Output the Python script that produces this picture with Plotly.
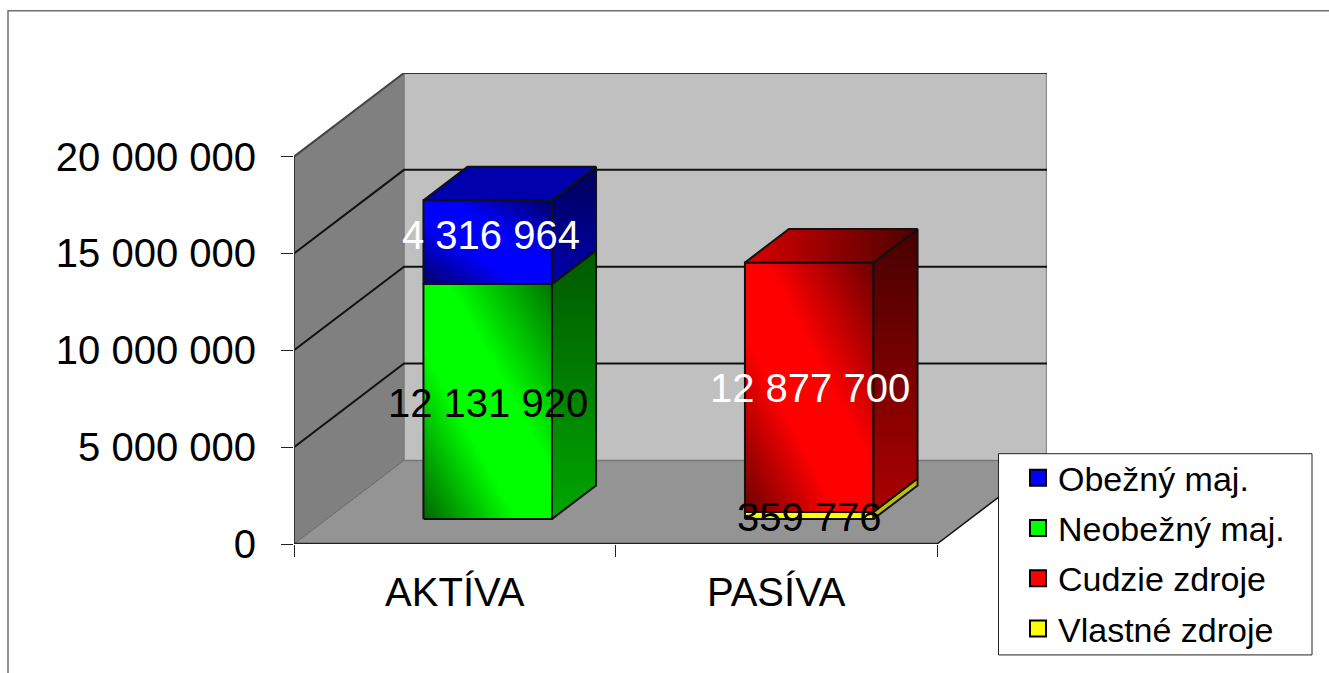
import numpy as np
import plotly.graph_objects as go

categories = ["AKTÍVA", "PASÍVA"]
obezny_maj = [4316964, None]
neobezny_maj = [12131920, None]
cudzie_zdroje = [None, 12877700]
vlastne_zdroje = [None, 359776]
y_ticks = [0, 5000000, 10000000, 15000000, 20000000]

FIG_W, FIG_H = 1329, 673
L, R, T, B = 294.0, 1047.0, 73.2, 543.7
PX_X = 321.5            # pixels per category
PX_Y = 19.35e-6         # pixels per unit value
DX = 110 / PX_X         # full chart depth, axis units
DY = 83.5 / PX_Y
X_MAX = 2 + DX
Y_MAX = 20000000 + DY
BAR_W = 0.4
D0, D1 = 0.3, 0.7       # bars' depth span


def fmt(v):
    return f"{v:,}".replace(",", " ")


def px(x):
    return (x - L) / (R - L)


def py(y):
    return (B - y) / (B - T)


def P(x, v, d=0.0):
    return x + d * DX, v + d * DY


def path(points):
    return "M " + " L ".join(f"{x},{y}" for x, y in points) + " Z"


def open_path(points):
    return "M " + " L ".join(f"{x},{y}" for x, y in points)


def shade(rgb, k):
    return "rgb(%d,%d,%d)" % tuple(round(c * k) for c in rgb)


shapes = []


def poly(points, fill, line="rgba(0,0,0,0)", width=0):
    shapes.append(dict(type="path", path=path(points), xref="x", yref="y", layer="below",
                       fillcolor=fill, line=dict(color=line, width=width)))


def seg(points, color, width):
    shapes.append(dict(type="path", path=open_path(points), xref="x", yref="y", layer="below",
                       line=dict(color=color, width=width)))


# chart box
poly([P(0, 0), P(0, 0, 1), P(2, 0, 1), P(2, 0)], "#949494")
poly([P(0, 0), P(0, 20000000), P(0, 20000000, 1), P(0, 0, 1)], "#808080")
poly([P(0, 0, 1), P(0, 20000000, 1), P(2, 20000000, 1), P(2, 0, 1)], "#C0C0C0")
seg([P(0, 0, 1), P(0, 20000000, 1)], "#7a7a7a", 1.5)
seg([P(2, 0, 1), P(2, 20000000, 1)], "#8c8c8c", 2.5)
seg([P(0, 0, 1), P(2, 0, 1)], "#777777", 1.5)
seg([P(0, 0), P(0, 0, 1)], "#666666", 1)
for v in y_ticks[1:]:
    seg([P(0, v), P(0, v, 1), P(2, v, 1)], "#111111" if v < 20000000 else "#444444", 2)
seg([P(0, 20000000, 1), P(2, 20000000, 1)], "#333333", 2)
seg([P(2, 0), P(2, 0, 1)], "#111111", 1.5)
seg([P(0, 0), P(0, 20000000)], "#333333", 2)
seg([P(0, 0), P(2, 0)], "#222222", 2.5)

# outer chart border and legend box
shapes.append(dict(type="path", xref="paper", yref="paper", layer="below",
                   path=open_path([(px(8), py(673)), (px(8), py(11)), (px(1329), py(11))]),
                   line=dict(color="#707070", width=1.5)))
shapes.append(dict(type="rect", xref="paper", yref="paper", layer="above",
                   x0=px(998.5), x1=px(1312), y0=py(654.5), y1=py(453.5),
                   fillcolor="white", line=dict(color="#222222", width=1)))

traces = []


def box(cat, base, value, rgb, fr=(0.45, 0.3, 0.58, 0.45), side=(0.36, 0.65), top=None):
    xl = cat + 0.5 - BAR_W / 2
    xr = cat + 0.5 + BAR_W / 2
    y0, y1 = base, base + value
    # front face with the diagonal shading
    ex = np.linspace(xl, xr, 61) + D0 * DX
    ey = np.linspace(y0, y1, 61) + D0 * DY
    cx = (np.arange(60) + 0.5) / 60
    z = (cx[None, :] + cx[:, None]) / 2
    traces.append(go.Heatmap(
        x=ex, y=ey, z=z, zmin=0, zmax=1, showscale=False, hoverinfo="skip", zsmooth="best",
        colorscale=[[0, shade(rgb, fr[0])], [fr[1], shade(rgb, 1)],
                    [fr[2], shade(rgb, 1)], [1, shade(rgb, fr[3])]]))
    a, b, c, d = P(xl, y0, D0), P(xr, y0, D0), P(xr, y1, D0), P(xl, y1, D0)
    traces.append(go.Scatter(x=[a[0], b[0], c[0], d[0], a[0]], y=[a[1], b[1], c[1], d[1], a[1]],
                             mode="lines", line=dict(color="#111111", width=2),
                             showlegend=False, hoverinfo="skip"))
    # side face
    s = [P(xr, y0, D0), P(xr, y0, D1), P(xr, y1, D1), P(xr, y1, D0), P(xr, y0, D0)]
    traces.append(go.Scatter(
        x=[p[0] for p in s], y=[p[1] for p in s], mode="lines", fill="toself",
        fillgradient=dict(type="vertical",
                          colorscale=[[0, shade(rgb, side[1])], [1, shade(rgb, side[0])]]),
        line=dict(color="#111111", width=2), showlegend=False, hoverinfo="skip"))
    # top face
    if top:
        t = [P(xl, y1, D0), P(xr, y1, D0), P(xr, y1, D1), P(xl, y1, D1), P(xl, y1, D0)]
        traces.append(go.Scatter(
            x=[p[0] for p in t], y=[p[1] for p in t], mode="lines", fill="toself",
            fillgradient=dict(type="horizontal",
                              colorscale=[[0, shade(rgb, top[0])], [1, shade(rgb, top[1])]]),
            line=dict(color="#111111", width=2), showlegend=False, hoverinfo="skip"))
    return (xl + xr) / 2 + D0 * DX, (y0 + y1) / 2 + D0 * DY


BLUE, GREEN, RED, YELLOW = (0, 0, 255), (0, 255, 0), (255, 0, 0), (255, 255, 0)
annotations = []


def label(xy, value, color, xshift=0, yshift=0):
    annotations.append(dict(x=xy[0], y=xy[1], text=fmt(value), showarrow=False, xshift=xshift, yshift=yshift,
                            font=dict(family="Liberation Sans", size=40, color=color)))


lab_g = box(0, 0, neobezny_maj[0], GREEN, fr=(0.4, 0.36, 0.6, 0.45), side=(0.35, 0.65))
lab_b = box(0, neobezny_maj[0], obezny_maj[0], BLUE, fr=(0.4, 0.38, 0.6, 0.4), side=(0.35, 0.68), top=(0.68, 0.68))
lab_y = box(1, 0, vlastne_zdroje[1], YELLOW, fr=(0.8, 0.3, 0.6, 0.9), side=(0.75, 0.75))
lab_r = box(1, vlastne_zdroje[1], cudzie_zdroje[1], RED, fr=(0.42, 0.36, 0.58, 0.42), side=(0.28, 0.68), top=(0.85, 0.3))

label(lab_g, neobezny_maj[0], "black", 0, -2)
label(lab_b, obezny_maj[0], "white", 3, 7)
label(lab_y, vlastne_zdroje[1], "black", 0, -2)
label(lab_r, cudzie_zdroje[1], "white", 1, -1)

for name, color in [("Obežný maj.", "#0000FF"), ("Neobežný maj.", "#00FF00"),
                    ("Cudzie zdroje", "#FF0000"), ("Vlastné zdroje", "#FFFF00")]:
    traces.append(go.Scatter(x=[None], y=[None], mode="markers", name=name, legendgroup=name,
                             marker=dict(symbol="square", size=16, color=color,
                                         line=dict(color="black", width=2))))

fig = go.Figure(traces)
fig.update_layout(
    width=FIG_W, height=FIG_H, autosize=False,
    margin=dict(l=L, r=FIG_W - R, t=T, b=FIG_H - B, pad=0, autoexpand=False),
    paper_bgcolor="white", plot_bgcolor="rgba(0,0,0,0)",
    font=dict(family="Liberation Sans", size=40, color="black"),
    shapes=shapes, annotations=annotations,
    xaxis=dict(range=[0, X_MAX], showgrid=False, zeroline=False, showline=False,
               tickmode="array", tickvals=[0.5, 1.5], ticktext=categories,
               ticks="outside", ticklen=0, ticklabelstandoff=13,
               tickfont=dict(family="Liberation Sans", size=40),
               minor=dict(tickmode="array", tickvals=[0, 1, 2], ticks="outside", ticklen=12,
                          tickcolor="#222222", tickwidth=1, showgrid=False)),
    yaxis=dict(range=[0, Y_MAX], showgrid=False, zeroline=False, showline=False,
               tickmode="array", tickvals=y_ticks, ticktext=[fmt(v) for v in y_ticks],
               ticks="outside", ticklen=12, tickcolor="#222222", tickwidth=1, ticklabelstandoff=17,
               tickfont=dict(family="Liberation Sans", size=40)),
    showlegend=True,
    legend=dict(x=px(1018), y=py(449), xanchor="left", yanchor="top", bgcolor="rgba(0,0,0,0)",
                borderwidth=0, traceorder="grouped", tracegroupgap=3,
                font=dict(family="Liberation Sans", size=34, color="black"), itemwidth=30),
)
fig.write_html("out.html", config={"displayModeBar": False},
               post_script="document.body.style.margin='0';document.body.style.overflow='hidden';")
